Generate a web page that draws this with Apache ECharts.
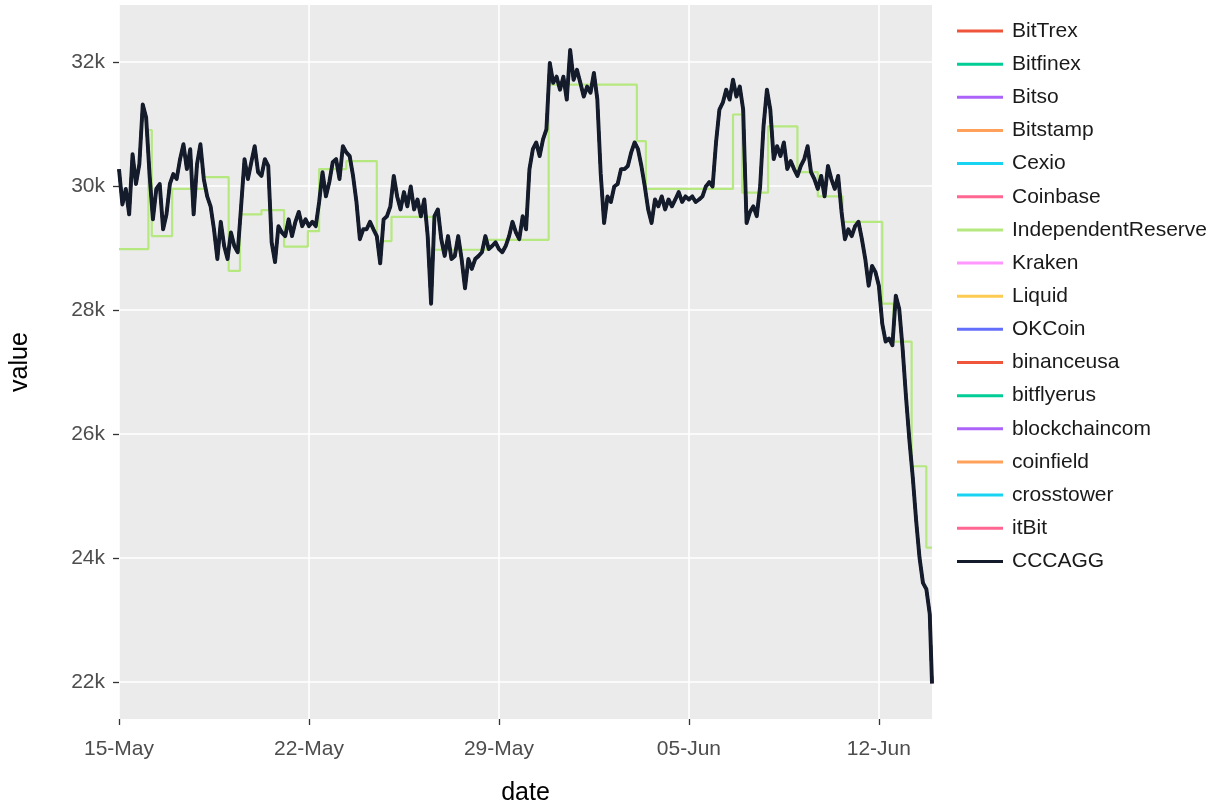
<!DOCTYPE html>
<html><head><meta charset="utf-8">
<script src="https://cdn.jsdelivr.net/npm/echarts@6/dist/echarts.min.js"></script>
<style>html,body{margin:0;padding:0;background:#fff}#c{width:1228px;height:811px}</style>
</head><body><div id="c"></div>
<script>
// ---------- data ----------
const startDate = '2022-05-15T00:00:00Z';
const stepHours = 3;
const lastTime = '2022-06-13T23:00:00Z';
const lastValue = 21.98;               // thousand USD
const xTickDays = [0, 7, 14, 21, 28];
const xTickLabels = ['15-May', '22-May', '29-May', '05-Jun', '12-Jun'];
const yTickValues = [22, 24, 26, 28, 30, 32];

const exchangeNames = ['BitTrex','Bitfinex','Bitso','Bitstamp','Cexio','Coinbase','IndependentReserve','Kraken','Liquid','OKCoin','binanceusa','bitflyerus','blockchaincom','coinfield','crosstower','itBit'];
const exchangeColors = ['#EF553B','#00CC96','#AB63FA','#FFA15A','#19D3F3','#FF6692','#B6E880','#FF97FF','#FECB52','#636EFA','#EF553B','#00CC96','#AB63FA','#FFA15A','#19D3F3','#FF6692'];

// CCCAGG, 3-hourly, thousand USD
const cccagg = [
30.27,29.70,29.95,29.54,30.51,30.03,30.35,31.31,
31.10,30.19,29.46,29.95,30.03,29.30,29.54,30.03,
30.19,30.11,30.43,30.67,30.27,30.59,29.54,30.35,
30.67,30.11,29.83,29.67,29.30,28.82,29.42,29.03,
28.82,29.25,29.03,28.93,29.67,30.43,30.11,30.38,
30.64,30.22,30.16,30.43,30.32,29.09,28.77,29.35,
29.25,29.19,29.46,29.19,29.42,29.58,29.35,29.46,
29.35,29.42,29.35,29.74,30.22,29.83,30.06,30.38,
30.43,30.11,30.64,30.54,30.48,30.16,29.74,29.14,
29.30,29.30,29.42,29.30,29.19,28.75,29.46,29.51,
29.67,30.16,29.83,29.62,29.90,29.67,29.99,29.62,
29.78,29.51,29.78,29.19,28.10,29.51,29.62,29.14,
28.87,29.19,28.82,28.87,29.19,28.82,28.35,28.82,
28.66,28.82,28.87,28.93,29.19,28.98,29.03,29.09,
28.98,28.93,29.03,29.19,29.42,29.25,29.14,29.51,
29.30,30.27,30.59,30.70,30.48,30.75,30.91,31.98,
31.66,31.76,31.55,31.76,31.39,32.19,31.71,31.87,
31.66,31.44,31.60,31.50,31.82,31.40,30.20,29.40,
29.83,29.74,29.99,30.03,30.27,30.27,30.32,30.54,
30.70,30.59,30.32,29.99,29.62,29.40,29.78,29.67,
29.83,29.62,29.78,29.67,29.78,29.90,29.74,29.83,
29.78,29.83,29.74,29.78,29.83,29.99,30.06,29.99,
30.70,31.23,31.34,31.55,31.39,31.71,31.44,31.60,
31.23,29.40,29.58,29.67,29.51,29.99,30.96,31.55,
31.23,30.43,30.64,30.48,30.70,30.27,30.40,30.27,
30.16,30.32,30.43,30.64,30.22,30.11,29.95,30.16,
29.83,30.32,30.11,29.95,30.16,29.58,29.14,29.30,
29.19,29.35,29.42,29.14,28.82,28.39,28.71,28.61,
28.39,27.78,27.49,27.54,27.43,28.23,28.02,27.38,
26.60,25.90,25.30,24.60,24.00,23.60,23.50,23.10
];

// IndependentReserve: stepwise quotes
const irTimes = ['2022-05-15T00:00:00Z','2022-05-16T02:00:00Z','2022-05-16T05:00:00Z','2022-05-16T23:00:00Z','2022-05-18T04:00:00Z','2022-05-19T01:00:00Z','2022-05-19T11:00:00Z','2022-05-20T06:00:00Z','2022-05-21T02:00:00Z','2022-05-21T23:00:00Z','2022-05-22T09:00:00Z','2022-05-23T09:00:00Z','2022-05-24T12:00:00Z','2022-05-25T01:00:00Z','2022-05-26T14:00:00Z','2022-05-28T13:00:00Z','2022-05-30T20:00:00Z','2022-06-03T02:00:00Z','2022-06-03T10:00:00Z','2022-06-06T15:00:00Z','2022-06-06T23:00:00Z','2022-06-07T22:00:00Z','2022-06-09T00:00:00Z','2022-06-09T18:00:00Z','2022-06-10T16:00:00Z','2022-06-12T03:00:00Z','2022-06-12T13:00:00Z','2022-06-13T05:00:00Z','2022-06-13T18:00:00Z','2022-06-13T23:00:00Z'];
const irValues = [28.98,30.90,29.19,29.95,30.14,28.63,29.54,29.61,29.02,29.27,30.27,30.40,29.11,29.50,28.97,29.13,31.63,30.72,29.95,31.15,29.89,30.96,30.22,29.83,29.42,28.10,27.49,25.48,24.17,24.17];

// ---------- build ----------
const DAY = 86400000;
const t0 = Date.parse(startDate);
const toDay = s => (Date.parse(s) - t0) / DAY;
const cccData = cccagg.map((v, i) => [i * stepHours / 24, v]);
cccData.push([toDay(lastTime), lastValue]);
const irData = irTimes.map((t, i) => [toDay(t), irValues[i]]);
const xMax = toDay(lastTime);

const series = exchangeNames.map((name, i) => ({
  name, type: 'line', symbol: 'none', animation: false,
  step: name === 'IndependentReserve' ? 'end' : false,
  data: name === 'IndependentReserve' ? irData : cccData,
  lineStyle: { width: name === 'IndependentReserve' ? 2.2 : 2.6, color: exchangeColors[i] },
  itemStyle: { color: exchangeColors[i] }
}));
series.push({
  name: 'CCCAGG', type: 'line', symbol: 'none', animation: false,
  data: cccData, lineStyle: { width: 3.9, color: '#141c2b', join: 'round' }, itemStyle: { color: '#141c2b' }
});

const font = 'Liberation Sans, Arial, sans-serif';
const chart = echarts.init(document.getElementById('c'), null, { renderer: 'canvas' });
chart.setOption({
  animation: false,
  backgroundColor: '#fff',
  grid: { left: 117, top: 5, width: 815, height: 717, show: true, backgroundColor: '#EBEBEB', borderWidth: 0 },
  xAxis: {
    type: 'value', min: 0, max: xMax, interval: 7,
    name: 'date', nameLocation: 'middle', nameGap: 62,
    nameTextStyle: { fontFamily: font, fontSize: 25, color: '#000' },
    axisLine: { show: false },
    axisTick: { show: true, length: 6, lineStyle: { color: '#333', width: 1.3 }, customValues: xTickDays },
    axisLabel: { customValues: xTickDays, margin: 20, fontFamily: font, fontSize: 21, color: '#4D4D4D',
      formatter: v => { const i = xTickDays.indexOf(Math.round(v)); return i >= 0 ? xTickLabels[i] : ''; } },
    splitLine: { show: true, lineStyle: { color: '#fff', width: 1.6 } }
  },
  yAxis: {
    type: 'value', min: 21.406, max: 32.915,
    name: 'value', nameLocation: 'middle', nameGap: 86, nameRotate: 90,
    nameTextStyle: { fontFamily: font, fontSize: 25, color: '#000' },
    axisLine: { show: false },
    axisTick: { show: true, length: 6, lineStyle: { color: '#333', width: 1.3 }, customValues: yTickValues },
    axisLabel: { customValues: yTickValues, margin: 14, fontFamily: font, fontSize: 21, color: '#4D4D4D',
      formatter: v => Math.round(v) + 'k' },
    splitLine: { show: true, lineStyle: { color: '#fff', width: 1.6 } }
  },
  legend: {
    orient: 'vertical', left: 957, top: 20, padding: 0,
    itemWidth: 46, itemHeight: 3, itemGap: 11.15,
    icon: 'rect',
    data: exchangeNames.concat(['CCCAGG']),
    textStyle: { fontFamily: font, fontSize: 21, color: '#1a1a1a', lineHeight: 22, padding: [0, 0, 0, 4] }
  },
  series
});
</script></body></html>
